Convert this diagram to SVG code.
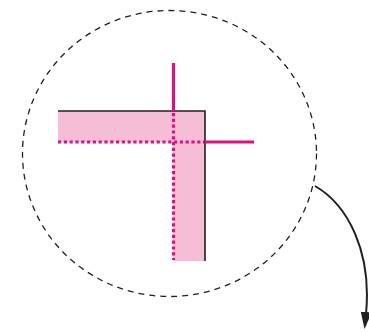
<svg xmlns="http://www.w3.org/2000/svg" width="369" height="332" viewBox="0 0 369 332">
<defs>
<style>
.mag{stroke:#d6137f;stroke-width:3.2;fill:none}
.dot{stroke-dasharray:3.2 2.6}
.blk{stroke:#231f20;stroke-width:1.6;fill:none}
</style>
<marker id="ah" markerWidth="18" markerHeight="12" refX="2" refY="5.5" orient="auto" markerUnits="userSpaceOnUse">
<path d="M0,0 L17,5.5 L0,11 Z" fill="#231f20"/>
</marker>
</defs>
<rect width="369" height="332" fill="#fff"/>
<g id="circle">
<ellipse cx="169.5" cy="153.5" rx="147" ry="143" fill="none" stroke="#231f20" stroke-width="1.3" stroke-dasharray="6 5"/>
</g>
<g id="corner">
<path d="M58,111 H205 V261 H173 V142 H58 Z" fill="#f6bdd6"/>
<path class="blk" d="M58,111 H205 V261"/>
</g>
<g id="lines">
<line class="mag" x1="173.5" y1="63" x2="173.5" y2="111"/>
<line class="mag dot" x1="173.5" y1="113" x2="173.5" y2="260"/>
<line class="mag dot" x1="58" y1="142" x2="204" y2="142"/>
<line class="mag" x1="205" y1="142" x2="254" y2="142"/>
</g>
<g id="connectors">
<path d="M315,186 C348,205 372,252 366,314" fill="none" stroke="#231f20" stroke-width="2" marker-end="url(#ah)"/>
</g>
</svg>
